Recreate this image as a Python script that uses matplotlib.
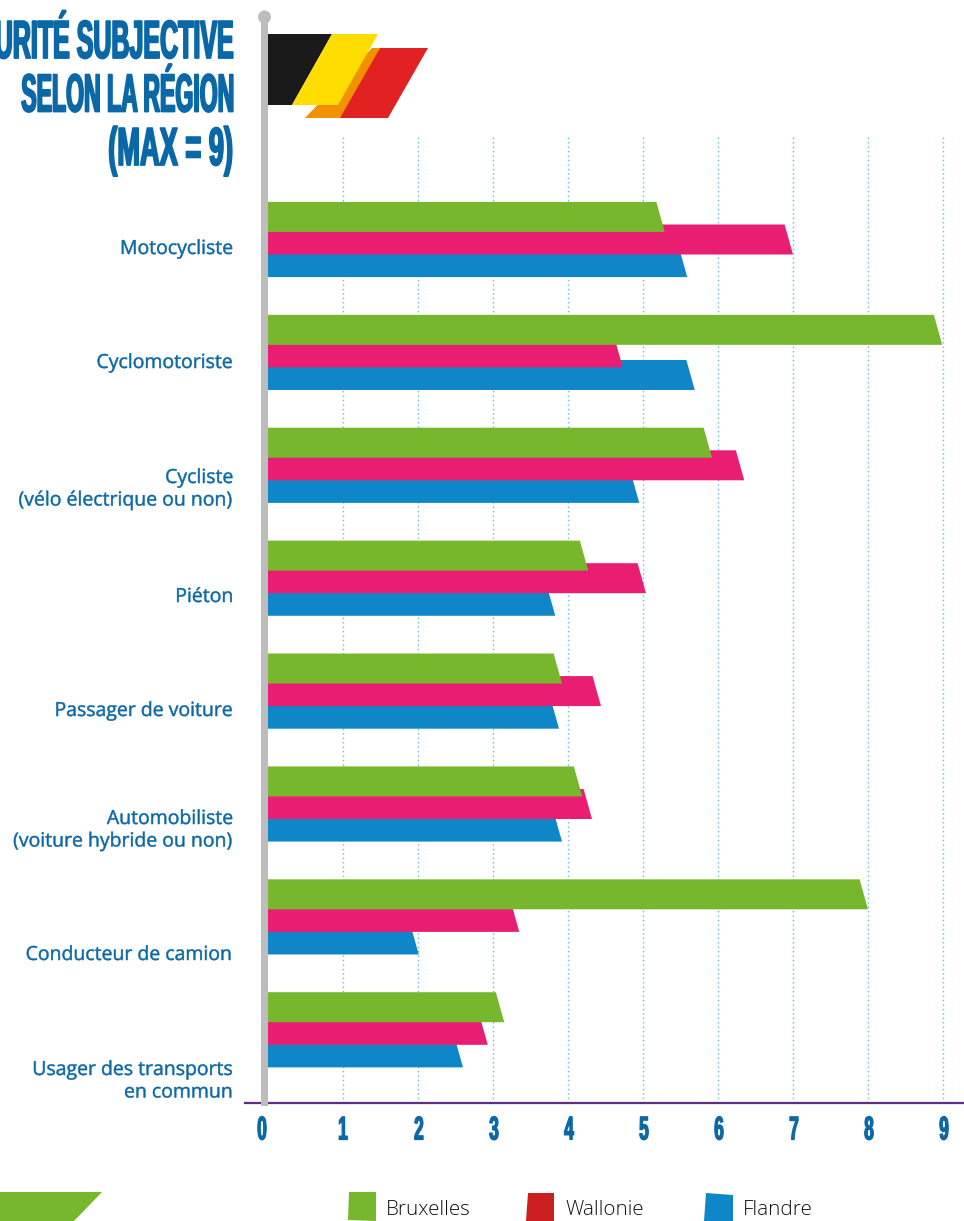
import matplotlib
matplotlib.use("Agg")
import matplotlib.pyplot as plt
import matplotlib.patheffects as pe
from matplotlib.patches import Polygon, Circle, Rectangle
from matplotlib.lines import Line2D
from matplotlib.transforms import Affine2D, ScaledTranslation

categories = ["Motocycliste", "Cyclomotoriste", "Cycliste\n(vélo électrique ou non)", "Piéton",
              "Passager de voiture", "Automobiliste\n(voiture hybride ou non)",
              "Conducteur de camion", "Usager des transports\nen commun"]
bruxelles = [5.29, 8.99, 5.92, 4.27, 3.92, 4.19, 8.00, 3.15]
wallonie = [7.00, 4.73, 6.35, 5.04, 4.44, 4.32, 3.35, 2.93]
flandre = [5.59, 5.69, 4.95, 3.83, 3.88, 3.92, 2.01, 2.60]
x_ticks = [0, 1, 2, 3, 4, 5, 6, 7, 8, 9]
title_lines = ["URITÉ SUBJECTIVE", "SELON LA RÉGION", "(MAX = 9)"]
legend_names = ["Bruxelles", "Wallonie", "Flandre"]

W, H = 964, 1221
GREEN, PINK, BLUE = "#76b72d", "#e91e73", "#0e86c8"
INK = "#0a68a6"
DISPLAY = ["Liberation Sans Narrow", "Liberation Sans", "DejaVu Sans"]


class TallGlyphs(pe.AbstractPathEffect):
    """Stretch glyph outlines vertically about the baseline and thicken them."""

    def __init__(self, k, stroke=0.0):
        super().__init__()
        self.k = k
        self.stroke = stroke

    def draw_path(self, renderer, gc, tpath, affine, rgbFace=None):
        g = renderer.new_gc()
        g.copy_properties(gc)
        if self.stroke:
            g.set_linewidth(self.stroke)
            g.set_foreground(rgbFace)
        renderer.draw_path(g, tpath, Affine2D().scale(1, self.k) + affine, rgbFace)
        g.restore()


fig = plt.figure(figsize=(W / 100, H / 100), dpi=100)
px = Affine2D().scale(1, -1).translate(0, H)

# Plot region: zero sits on the pole, one unit spans 75 pixels
left, right, top, bottom = 268, W, 135, 1102.5
ax = fig.add_axes([left / W, 1 - bottom / H, (right - left) / W, (bottom - top) / H])
GROUP_STEP = 112.9
FIRST_CENTRE = 239.5
ax.set_xlim(0, (right - left) / 75)
ax.set_ylim((bottom - FIRST_CENTRE) / GROUP_STEP, (top - FIRST_CENTRE) / GROUP_STEP)
for s in ax.spines.values():
    s.set_visible(False)
ax.set_yticks([])
ax.patch.set_alpha(0)
ax.set_xticks(x_ticks)
ax.set_xticklabels([str(t) for t in x_ticks], family=DISPLAY, weight="bold", fontsize=12.5, color=INK)
ax.tick_params(axis="x", length=0, pad=18)
ax.xaxis.grid(True, color="#62bce2", linestyle=(0, (1, 2.2)), linewidth=1.0, zorder=0)
ax.xaxis.get_gridlines()[0].set_visible(False)
ax.set_axisbelow(True)
for t, lab in zip(x_ticks, ax.get_xticklabels()):
    lab.set_path_effects([TallGlyphs(1.9, 0.9)])
    shift = -6 if t == 0 else (0 if t == 1 else 1)
    lab.set_transform(lab.get_transform() + ScaledTranslation(shift / 100, 0, fig.dpi_scale_trans))

# Bars end in a slanted cut; the stated value is the lower tip
BAR_H = 30 / GROUP_STEP
SLANT = 0.112
series = [(flandre, BLUE, 0.2, 2), (wallonie, PINK, 0.0, 3), (bruxelles, GREEN, -0.2, 4)]
for values, colour, offset, z in series:
    for i, v in enumerate(values):
        t, b = i + offset - BAR_H / 2, i + offset + BAR_H / 2
        ax.add_patch(Polygon([(0, t), (v - SLANT, t), (v, b), (0, b)], closed=True,
                             facecolor=colour, edgecolor="none", zorder=z))

# Category labels hang at varying distances under each group
label_first_line = [249, 363, 478, 597, 711, 819, 955, 1070]
for name, y in zip(categories, label_first_line):
    for j, line in enumerate(name.split("\n")):
        fig.text(233.5, y + j * 22.5, line, transform=px, ha="right", va="center",
                 family="Open Sans", weight="medium", fontsize=14, color=INK,
                 path_effects=[TallGlyphs(1.0, 0.35)])

# Title, right aligned against the pole
title_sizes = [18.0, 16.6, 19.6]
for line, base, size in zip(title_lines, [58, 111.5, 165], title_sizes):
    fig.text(233, base, line, transform=px, ha="right", va="baseline", family=DISPLAY,
             weight="bold", fontsize=size, color=INK, path_effects=[TallGlyphs(37 / (size * 1.389 * 0.69), 1.3)])

# Pole and baseline
fig.add_artist(Line2D([245, W], [1102.5, 1102.5], transform=px, color="#5f2d82", lw=1.6, zorder=6))
fig.add_artist(Rectangle((261, 17), 7, 1089, transform=px, facecolor="#bdbdbd", edgecolor="none", zorder=7))
fig.add_artist(Circle((264.5, 17), 6.5, transform=px, facecolor="#bdbdbd", edgecolor="none", zorder=7))

# Flag
flag = [("#f29100", [(305, 118), (345, 118), (380, 48), (372, 48)]),
        ("#e22222", [(340, 118), (388, 118), (428, 48), (380, 48)]),
        ("#1a1a1a", [(268, 34), (332, 34), (292, 105), (268, 105)]),
        ("#ffdd00", [(332, 34), (378, 34), (338, 105), (292, 105)])]
for colour, pts in flag:
    fig.add_artist(Polygon(pts, closed=True, transform=px, facecolor=colour, edgecolor="none", zorder=5))

# Footer band and legend
fig.add_artist(Polygon([(0, 1192), (102, 1192), (74, 1221), (0, 1221)], closed=True, transform=px,
                       facecolor=GREEN, edgecolor="none"))
swatches = [(GREEN, [(349, 1192), (376, 1192), (376, 1221), (348, 1220)]),
            ("#cc1f1f", [(528, 1193), (554, 1193), (554, 1221), (526, 1221)]),
            (BLUE, [(706, 1193), (733, 1195), (733, 1221), (704, 1221)])]
for (colour, pts), name, tx in zip(swatches, legend_names, [386, 565, 743]):
    fig.add_artist(Polygon(pts, closed=True, transform=px, facecolor=colour, edgecolor="none"))
    fig.text(tx, 1210, name, transform=px, ha="left", va="center", family="Open Sans",
             weight="light", fontsize=14.8, color="#111111")

fig.savefig("out.png", dpi=100)
